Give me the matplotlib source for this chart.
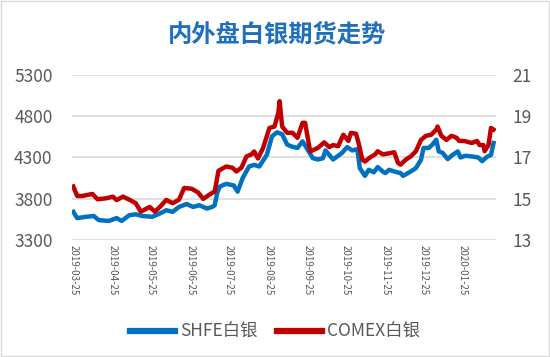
import pandas as pd
import matplotlib.pyplot as plt
import matplotlib.dates as mdates

plt.rcParams['font.family'] = ['Noto Sans CJK SC', 'DejaVu Sans']

# 数据
shfe_dates = ['2019-03-25', '2019-03-28', '2019-04-04', '2019-04-10', '2019-04-14', '2019-04-22',
              '2019-04-28', '2019-05-02', '2019-05-08', '2019-05-13', '2019-05-18', '2019-05-26',
              '2019-06-01', '2019-06-06', '2019-06-11', '2019-06-16', '2019-06-22', '2019-06-27',
              '2019-07-02', '2019-07-08', '2019-07-12', '2019-07-14', '2019-07-16', '2019-07-18',
              '2019-07-23', '2019-07-29', '2019-08-01', '2019-08-05', '2019-08-10', '2019-08-14',
              '2019-08-18', '2019-08-24', '2019-08-28', '2019-09-01', '2019-09-05', '2019-09-09',
              '2019-09-13', '2019-09-17', '2019-09-21', '2019-09-25', '2019-09-29', '2019-10-03',
              '2019-10-07', '2019-10-09', '2019-10-15', '2019-10-22', '2019-10-26', '2019-10-30',
              '2019-11-03', '2019-11-05', '2019-11-09', '2019-11-12', '2019-11-16', '2019-11-19',
              '2019-11-23', '2019-11-25', '2019-11-28', '2019-12-02', '2019-12-07', '2019-12-09',
              '2019-12-15', '2019-12-19', '2019-12-23', '2019-12-25', '2019-12-29', '2020-01-01',
              '2020-01-04', '2020-01-06', '2020-01-09', '2020-01-13', '2020-01-17', '2020-01-21',
              '2020-01-23', '2020-01-27', '2020-02-02', '2020-02-06', '2020-02-09', '2020-02-13',
              '2020-02-16', '2020-02-18']
shfe = [3640, 3565, 3580, 3590, 3540, 3530,
        3565, 3530, 3600, 3610, 3590, 3580,
        3620, 3660, 3640, 3700, 3735, 3700,
        3720, 3680, 3700, 3720, 3870, 3946,
        3980, 3960, 3885, 4050, 4190, 4210,
        4190, 4333, 4556, 4605, 4580, 4455,
        4430, 4415, 4495, 4395, 4292, 4275,
        4290, 4385, 4275, 4355, 4425, 4385,
        4400, 4170, 4077, 4150, 4120, 4183,
        4130, 4110, 4150, 4130, 4110, 4077,
        4130, 4170, 4270, 4415, 4415, 4455,
        4515, 4373, 4355, 4280, 4333, 4373,
        4300, 4320, 4310, 4300, 4255, 4310,
        4330, 4475]

comex_dates = ['2019-03-25', '2019-03-28', '2019-04-01', '2019-04-09', '2019-04-13', '2019-04-20',
               '2019-04-25', '2019-04-28', '2019-05-03', '2019-05-08', '2019-05-13', '2019-05-17',
               '2019-05-24', '2019-05-28', '2019-06-01', '2019-06-06', '2019-06-11', '2019-06-16',
               '2019-06-20', '2019-06-26', '2019-07-01', '2019-07-05', '2019-07-10', '2019-07-14',
               '2019-07-17', '2019-07-23', '2019-07-28', '2019-07-31', '2019-08-04', '2019-08-08',
               '2019-08-12', '2019-08-14', '2019-08-17', '2019-08-21', '2019-08-26', '2019-08-30',
               '2019-09-02', '2019-09-03', '2019-09-05', '2019-09-09', '2019-09-13', '2019-09-17',
               '2019-09-21', '2019-09-23', '2019-09-27', '2019-10-03', '2019-10-08', '2019-10-12',
               '2019-10-15', '2019-10-19', '2019-10-23', '2019-10-27', '2019-10-29', '2019-11-02',
               '2019-11-04', '2019-11-07', '2019-11-09', '2019-11-13', '2019-11-17', '2019-11-19',
               '2019-11-23', '2019-11-28', '2019-12-02', '2019-12-05', '2019-12-07', '2019-12-11',
               '2019-12-15', '2019-12-19', '2019-12-23', '2019-12-27', '2019-12-31', '2020-01-04',
               '2020-01-05', '2020-01-08', '2020-01-12', '2020-01-16', '2020-01-20', '2020-01-22',
               '2020-01-26', '2020-02-01', '2020-02-05', '2020-02-07', '2020-02-10', '2020-02-11',
               '2020-02-14', '2020-02-16', '2020-02-18']
comex = [15.59, 15.13, 15.13, 15.23, 14.97, 15.02,
         15.10, 14.93, 15.10, 14.95, 14.78, 14.37,
         14.60, 14.37, 14.60, 14.94, 14.78, 14.95,
         15.52, 15.48, 15.30, 14.99, 15.20, 15.35,
         16.35, 16.56, 16.50, 16.32, 16.50, 17.05,
         17.15, 17.29, 16.95, 17.46, 18.43, 18.50,
         19.17, 19.73, 18.50, 18.19, 18.20, 17.95,
         18.68, 18.68, 17.29, 17.46, 17.73, 17.50,
         17.60, 17.55, 18.10, 17.80, 18.19, 18.15,
         17.70, 16.89, 16.80, 17.00, 17.15, 17.30,
         17.15, 17.20, 17.25, 16.73, 16.65, 16.89,
         17.05, 17.30, 17.85, 18.05, 18.10, 18.35,
         18.50, 18.05, 17.85, 18.05, 17.95, 17.80,
         17.80, 17.70, 17.80, 17.60, 17.60, 17.30,
         17.60, 18.43, 18.35]

tick_dates = pd.date_range('2019-03-25', '2020-01-25', freq='MS') + pd.Timedelta(days=24)
tick_dates = pd.to_datetime(['2019-03-25', '2019-04-25', '2019-05-25', '2019-06-25', '2019-07-25',
                             '2019-08-25', '2019-09-25', '2019-10-25', '2019-11-25', '2019-12-25',
                             '2020-01-25'])

fig = plt.figure(figsize=(5.5, 3.57), dpi=100)
fig.patches.append(plt.Rectangle((0.002, 0.003), 0.996, 0.994, transform=fig.transFigure,
                                 fill=False, edgecolor='#D9D9D9', linewidth=1))
ax = fig.add_axes([0.131, 0.328, 0.771, 0.462])
ax2 = ax.twinx()

l1, = ax.plot(pd.to_datetime(shfe_dates), shfe, color='#0070C0', linewidth=3.2,
              solid_joinstyle='round', label='SHFE白银')
l2, = ax2.plot(pd.to_datetime(comex_dates), comex, color='#C00000', linewidth=3.2,
               solid_joinstyle='round', label='COMEX白银')

ax.set_ylim(3300, 5300)
ax.set_yticks([3300, 3800, 4300, 4800, 5300])
ax2.set_ylim(13, 21)
ax2.set_yticks([13, 15, 17, 19, 21])
ax.set_xlim(pd.Timestamp('2019-03-24'), pd.Timestamp('2020-02-20'))
ax.set_xticks(tick_dates)
ax.xaxis.set_major_formatter(mdates.DateFormatter('%Y-%m-%d'))

ax.grid(axis='y', color='#D9D9D9', linewidth=1.2)
ax.set_axisbelow(True)
for a in (ax, ax2):
    for s in a.spines.values():
        s.set_visible(False)
    a.tick_params(length=0, colors='#595959')
ax.tick_params(axis='y', labelsize=12.5, pad=14)
ax2.tick_params(axis='y', labelsize=12.5, pad=12)
ax.tick_params(axis='x', labelsize=7, pad=4)
for lab in ax.get_xticklabels():
    lab.set_rotation(-90)
    lab.set_ha('center')
    lab.set_va('top')

fig.text(0.503, 0.905, '内外盘白银期货走势', ha='center', va='center',
         fontsize=17.5, color='#1F6FBF', fontweight='bold')

fig.legend(handles=[l1, l2], loc='center', bbox_to_anchor=(0.5, 0.07), ncol=2, frameon=False,
           fontsize=12.5, handlelength=2.6, handletextpad=0.3, columnspacing=1.1,
           labelcolor='#595959')
for h in fig.legends[0].get_lines():
    h.set_linewidth(4.5)

plt.savefig('out.png')
